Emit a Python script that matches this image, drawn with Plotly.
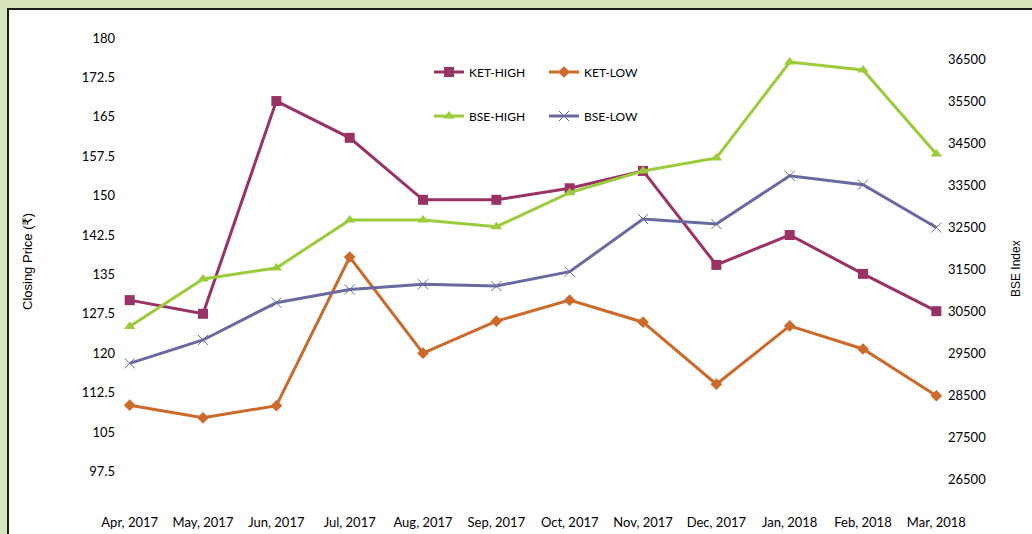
import plotly.graph_objects as go

months = ["Apr, 2017", "May, 2017", "Jun, 2017", "Jul, 2017", "Aug, 2017", "Sep, 2017",
          "Oct, 2017", "Nov, 2017", "Dec, 2017", "Jan, 2018", "Feb, 2018", "Mar, 2018"]
ket_high = [130.1, 127.5, 168.0, 161.0, 149.2, 149.2, 151.4, 154.7, 136.8, 142.5, 135.1, 128.0]
ket_low = [110.1, 107.7, 110.0, 138.3, 120.0, 126.1, 130.1, 125.9, 114.1, 125.2, 120.8, 111.9]
bse_high = [30131, 31262, 31524, 32667, 32667, 32507, 33317, 33833, 34143, 36429, 36238, 34238]
bse_low = [29254, 29810, 30698, 31012, 31136, 31095, 31436, 32690, 32571, 33721, 33507, 32488]

left_ticks = [97.5, 105, 112.5, 120, 127.5, 135, 142.5, 150, 157.5, 165, 172.5, 180]
left_text = ["97.5", "105", "112.5", "120", "127.5", "135", "142.5", "150", "157.5", "165", "172.5", "180"]
right_ticks = [26500, 27500, 28500, 29500, 30500, 31500, 32500, 33500, 34500, 35500, 36500]
right_text = ["26500", "27500", "28500", "29500", "30500", "31500", "32500", "33500", "34500", "35500", "36500"]

W, H = 1032, 534
L, R, T, B = 122, 942, 38, 511
pw, ph = R - L, B - T

def px(x):
    return (x - L) / pw

def py(y):
    return (B - y) / ph

C_KH = "#993366"
C_KL = "#CC6A2C"
C_BH = "#9BCB3B"
C_BL = "#6A6AA0"

fig = go.Figure()
fig.add_trace(go.Scatter(x=months, y=ket_high, name="KET-HIGH", mode="lines+markers",
                         line=dict(color=C_KH, width=3),
                         marker=dict(symbol="square", size=10, color=C_KH),
                         cliponaxis=False, legend="legend"))
fig.add_trace(go.Scatter(x=months, y=ket_low, name="KET-LOW", mode="lines+markers",
                         line=dict(color=C_KL, width=3),
                         marker=dict(symbol="diamond", size=9, color=C_KL),
                         cliponaxis=False, legend="legend"))
fig.add_trace(go.Scatter(x=months, y=bse_high, name="BSE-HIGH", mode="lines+markers",
                         line=dict(color=C_BH, width=3),
                         marker=dict(symbol="triangle-up", size=10, color=C_BH),
                         yaxis="y2", cliponaxis=False, legend="legend2"))
fig.add_trace(go.Scatter(x=months, y=bse_low, name="BSE-LOW", mode="lines+markers",
                         line=dict(color=C_BL, width=3),
                         marker=dict(symbol="x-thin-open", size=10, color=C_BL,
                                     line=dict(color=C_BL, width=1)),
                         yaxis="y2", cliponaxis=False, legend="legend2"))

tick_font = dict(family="Lato, 'Open Sans', sans-serif", size=13, color="#000000")
leg_font = dict(family="Lato, 'Open Sans', sans-serif", size=12, color="#000000")

fig.update_layout(
    width=W, height=H,
    margin=dict(l=L, r=W - R, t=T, b=H - B, pad=0, autoexpand=False),
    paper_bgcolor="#D7E4BD",
    plot_bgcolor="rgba(0,0,0,0)",
    showlegend=True,
    xaxis=dict(type="category", range=[-0.105, 11.077], showgrid=False, zeroline=False,
               showline=False, ticks="", tickfont=tick_font, ticklabelstandoff=2,
               automargin=False),
    yaxis=dict(range=[89.96, 180], tickvals=left_ticks, ticktext=left_text,
               showgrid=False, zeroline=False, showline=False, ticks="",
               tickfont=tick_font, ticklabelstandoff=6, automargin=False),
    yaxis2=dict(range=[25738, 37000], tickvals=right_ticks, ticktext=right_text,
                overlaying="y", side="right",
                showgrid=False, zeroline=False, showline=False, ticks="",
                tickfont=tick_font, ticklabelstandoff=5, automargin=False),
    legend=dict(orientation="h", x=px(429), y=py(72), xanchor="left", yanchor="middle",
                bgcolor="rgba(0,0,0,0)", font=leg_font, entrywidth=70,
                entrywidthmode="pixels", traceorder="normal"),
    legend2=dict(orientation="h", x=px(429), y=py(116), xanchor="left", yanchor="middle",
                 bgcolor="rgba(0,0,0,0)", font=leg_font, entrywidth=70,
                 entrywidthmode="pixels", traceorder="normal"),
    shapes=[dict(type="rect", xref="paper", yref="paper",
                 x0=px(8), x1=px(1045), y0=py(545), y1=py(9),
                 fillcolor="#FFFFFF", line=dict(color="#1A1A1A", width=2), layer="below")],
    annotations=[
        dict(text="Closing Price (₹)", xref="paper", yref="paper", x=px(27), y=py(262),
             showarrow=False, textangle=-90, xanchor="center", yanchor="middle",
             font=dict(family="'Liberation Sans', Arial, 'DejaVu Sans', sans-serif", size=13, color="#000000")),
        dict(text="BSE Index", xref="paper", yref="paper", x=px(1016), y=py(269),
             showarrow=False, textangle=-90, xanchor="center", yanchor="middle",
             font=dict(family="'Liberation Sans', Arial, sans-serif", size=12, color="#000000")),
    ],
)

fig.write_html("out.html", config={"displayModeBar": False},
               post_script="document.body.style.margin='0px';document.body.style.background='#D7E4BD';")
